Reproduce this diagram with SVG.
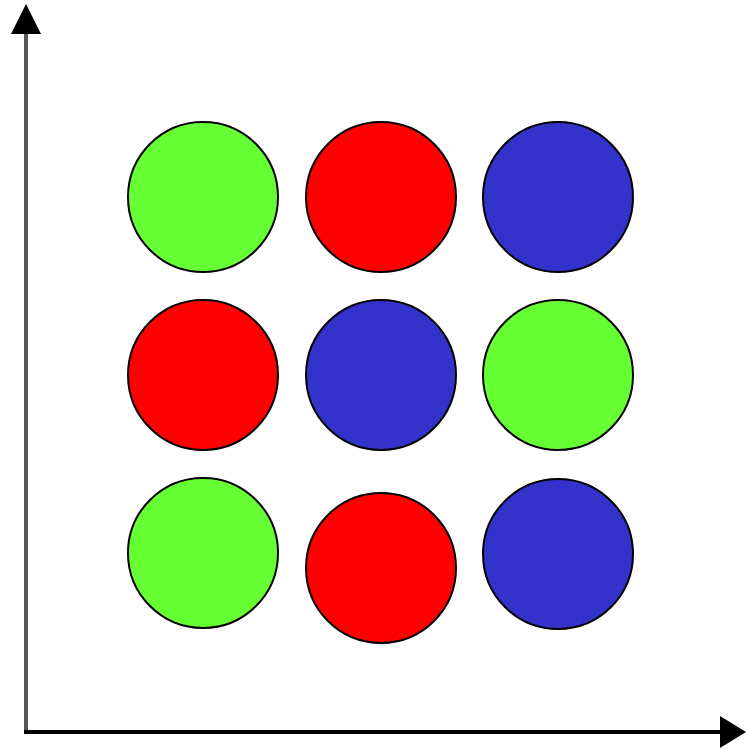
<svg xmlns="http://www.w3.org/2000/svg" width="746" height="750" viewBox="0 0 746 750">
<defs>
<style>
.c{stroke:#000;stroke-width:2}
.g{fill:#66ff33}
.r{fill:#ff0000}
.b{fill:#3333cc}
</style>
</defs>
<rect width="746" height="750" fill="#fff"/>
<g id="axes">
<line x1="26" y1="30" x2="26" y2="734" stroke="#555" stroke-width="4"/>
<polygon points="26,4 11,34 41,34" fill="#000"/>
<line x1="24" y1="732" x2="722" y2="732" stroke="#000" stroke-width="4"/>
<polygon points="746,732 720,716 720,748" fill="#000"/>
</g>
<g id="n1"><circle class="c g" cx="203" cy="197" r="75"/></g>
<g id="n2"><circle class="c r" cx="381" cy="197" r="75"/></g>
<g id="n3"><circle class="c b" cx="558" cy="197" r="75"/></g>
<g id="n4"><circle class="c r" cx="203" cy="375" r="75"/></g>
<g id="n5"><circle class="c b" cx="381" cy="375" r="75"/></g>
<g id="n6"><circle class="c g" cx="558" cy="375" r="75"/></g>
<g id="n7"><circle class="c g" cx="203" cy="553" r="75"/></g>
<g id="n8"><circle class="c r" cx="381" cy="568" r="75"/></g>
<g id="n9"><circle class="c b" cx="558" cy="554" r="75"/></g>
</svg>
